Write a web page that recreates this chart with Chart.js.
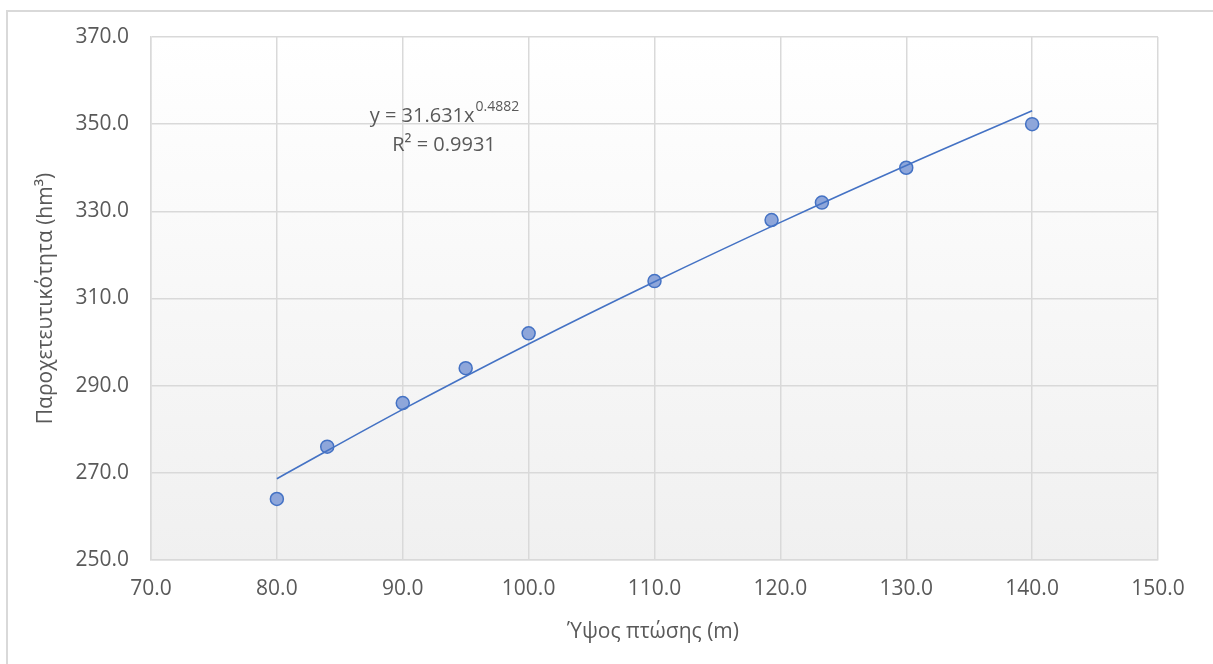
<!DOCTYPE html>
<html>
<head>
<meta charset="utf-8">
<script src="https://cdn.jsdelivr.net/npm/chart.js@4/dist/chart.umd.min.js"></script>
<style>
  html, body { margin: 0; padding: 0; background: #ffffff; }
  #wrap { position: relative; width: 1213px; height: 664px; }
</style>
</head>
<body>
<div id="wrap"><canvas id="c" width="1213" height="664"></canvas></div>
<script>
// Measured head (m) and corresponding capacity (hm³)
const headM = [80, 84, 90, 95, 100, 110, 119.3, 123.3, 130, 140];
const capacityHm3 = [264, 276, 286, 294, 302, 314, 328, 332, 340, 350];

// Power-law fit y = a·x^b, as given by the equation label
const fitA = 31.631;
const fitB = 0.4882;
const fitR2 = 0.9931;
const fitX = [80, 90, 100, 110, 120, 130, 140];

// Axis ranges and ticks
const xTicks = [70, 80, 90, 100, 110, 120, 130, 140, 150];
const yTicks = [250, 270, 290, 310, 330, 350, 370];

const xTitle = 'Ύψος πτώσης (m)';
const yTitle = 'Παροχετευτικότητα (hm³)';

const FONT = '"Open Sans", "DejaVu Sans", sans-serif';
const TEXT = '#595959';
const GRID = '#d9d9d9';

const pointsData = headM.map((x, i) => ({ x: x, y: capacityHm3[i] }));
const fitData = fitX.map(x => ({ x: x, y: fitA * Math.pow(x, fitB) }));

const decorPlugin = {
  id: 'decor',
  beforeDraw(chart) {
    const ctx = chart.ctx;
    const a = chart.chartArea;
    ctx.save();
    ctx.fillStyle = '#ffffff';
    ctx.fillRect(0, 0, chart.width, chart.height);
    // outer frame
    ctx.strokeStyle = GRID;
    ctx.lineWidth = 2;
    ctx.strokeRect(7, 11, chart.width + 10, chart.height + 10);
    // plot area gradient
    const g = ctx.createLinearGradient(0, a.top, 0, a.bottom);
    g.addColorStop(0, '#ffffff');
    g.addColorStop(1, '#f0f0f0');
    ctx.fillStyle = g;
    ctx.fillRect(a.left, a.top, a.right - a.left, a.bottom - a.top);
    ctx.restore();
  },
  afterDraw(chart) {
    const ctx = chart.ctx;
    const a = chart.chartArea;
    ctx.save();
    ctx.fillStyle = TEXT;
    // x axis title
    ctx.font = '21px ' + FONT;
    ctx.textAlign = 'center';
    ctx.textBaseline = 'middle';
    ctx.fillText(xTitle, 653, 632);
    // y axis title
    ctx.save();
    ctx.translate(46, (a.top + a.bottom) / 2);
    ctx.rotate(-Math.PI / 2);
    ctx.fillText(yTitle, 0, 0);
    ctx.restore();
    // fit equation
    ctx.textAlign = 'left';
    ctx.textBaseline = 'alphabetic';
    const main = 'y = ' + fitA.toFixed(3) + 'x';
    const sup = fitB.toFixed(4);
    ctx.font = '20px ' + FONT;
    const wMain = ctx.measureText(main).width;
    ctx.font = '14px ' + FONT;
    const wSup = ctx.measureText(sup).width;
    const eqCx = 444;
    const x0 = eqCx - (wMain + wSup) / 2;
    ctx.font = '20px ' + FONT;
    ctx.fillText(main, x0, 122);
    ctx.font = '14px ' + FONT;
    ctx.fillText(sup, x0 + wMain + 1, 111);
    ctx.font = '20px ' + FONT;
    ctx.textAlign = 'center';
    ctx.fillText('R² = ' + fitR2.toFixed(4), eqCx, 151);
    ctx.restore();
  }
};

new Chart(document.getElementById('c'), {
  type: 'scatter',
  data: {
    datasets: [
      {
        label: 'fit',
        type: 'line',
        data: fitData,
        borderColor: '#4472c4',
        borderWidth: 1.6,
        pointRadius: 0,
        fill: false,
        tension: 0.4,
        order: 0
      },
      {
        label: 'data',
        data: pointsData,
        pointRadius: 6.5,
        pointHoverRadius: 6.5,
        pointBackgroundColor: '#8ea6da',
        pointBorderColor: '#4472c4',
        pointBorderWidth: 1.5,
        order: 1
      }
    ]
  },
  options: {
    responsive: false,
    animation: false,
    devicePixelRatio: 1,
    layout: { padding: { left: 7, top: 37, right: 55, bottom: 0 } },
    plugins: { legend: { display: false }, tooltip: { enabled: false } },
    scales: {
      x: {
        type: 'linear',
        min: xTicks[0],
        max: xTicks[xTicks.length - 1],
        afterBuildTicks(s) { s.ticks = xTicks.map(v => ({ value: v })); },
        afterFit(s) { s.height = 104; },
        grid: { color: GRID, lineWidth: 1.5, drawTicks: false },
        border: { color: GRID, width: 1.5 },
        ticks: {
          color: TEXT,
          font: { family: FONT, size: 21 },
          padding: 16,
          maxRotation: 0,
          callback: v => Number(v).toFixed(1)
        }
      },
      y: {
        type: 'linear',
        min: yTicks[0],
        max: yTicks[yTicks.length - 1],
        afterBuildTicks(s) { s.ticks = yTicks.map(v => ({ value: v })); },
        afterFit(s) { s.width = 144; },
        grid: { color: GRID, lineWidth: 1.5, drawTicks: false },
        border: { color: GRID, width: 1.5 },
        ticks: {
          color: TEXT,
          font: { family: FONT, size: 21 },
          padding: 22,
          callback: v => Number(v).toFixed(1)
        }
      }
    }
  },
  plugins: [decorPlugin]
});
</script>
</body>
</html>
